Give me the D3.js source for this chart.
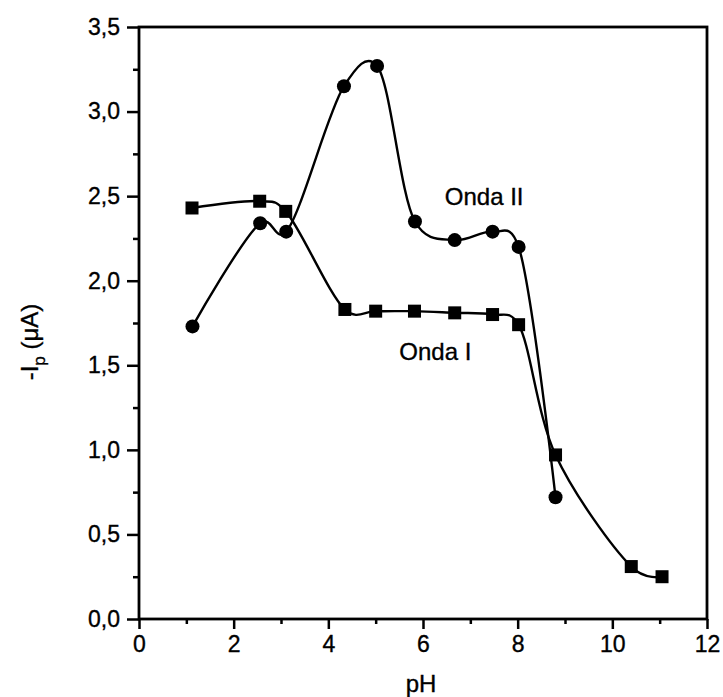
<!DOCTYPE html>
<html>
<head>
<meta charset="utf-8">
<script src="https://cdn.jsdelivr.net/npm/d3@7"></script>
<style>
  body { margin: 0; background: #fff; }
  svg { display: block; }
  text { font-family: "Liberation Sans", Arial, sans-serif; fill: #000; stroke: #000; stroke-width: 0.35px; }
</style>
</head>
<body>
<svg id="chart" width="723" height="697"></svg>
<script>
// Data
const pH_I   = [1.12, 2.55, 3.10, 4.35, 5.00, 5.82, 6.67, 7.47, 8.02, 8.80, 10.40, 11.05];
const ip_I   = [2.43, 2.47, 2.41, 1.83, 1.82, 1.82, 1.81, 1.80, 1.74, 0.97, 0.31, 0.25];
const pH_II  = [1.13, 2.56, 3.11, 4.33, 5.03, 5.83, 6.67, 7.47, 8.02, 8.80];
const ip_II  = [1.73, 2.34, 2.29, 3.15, 3.27, 2.35, 2.24, 2.29, 2.20, 0.72];
const xTicks = [0, 2, 4, 6, 8, 10, 12];
const yTicks = [0.0, 0.5, 1.0, 1.5, 2.0, 2.5, 3.0, 3.5];
const seriesLabels = ["Onda I", "Onda II"];

const svg = d3.select("#chart");
const mLeft = 139, mRight = 707, mTop = 27, mBottom = 619;

const x = d3.scaleLinear().domain([0, 12]).range([mLeft, mRight]);
const y = d3.scaleLinear().domain([0, 3.5]).range([mBottom, mTop]);

const fmt = d => d3.format(".1f")(d).replace(".", ",");

// frame
svg.append("rect")
  .attr("x", mLeft).attr("y", mTop)
  .attr("width", mRight - mLeft).attr("height", mBottom - mTop)
  .attr("fill", "none").attr("stroke", "#000").attr("stroke-width", 2.8);

// x axis
const xAxis = d3.axisBottom(x).tickValues(xTicks).tickSize(10).tickPadding(6).tickFormat(d3.format("d"));
const gx = svg.append("g").attr("transform", `translate(0,${mBottom})`).call(xAxis);
gx.select(".domain").remove();
gx.selectAll(".tick line").attr("stroke-width", 2.5);
gx.selectAll(".tick text").style("font-size", "23px").attr("dy", "0.75em");
const gxm = svg.append("g").attr("transform", `translate(0,${mBottom})`)
  .call(d3.axisBottom(x).tickValues(d3.range(1, 12, 2)).tickSize(5).tickFormat(""));
gxm.select(".domain").remove();
gxm.selectAll(".tick line").attr("stroke-width", 2.5);

// y axis
const yAxis = d3.axisLeft(y).tickValues(yTicks).tickSize(12).tickPadding(7).tickFormat(fmt);
const gy = svg.append("g").attr("transform", `translate(${mLeft},0)`).call(yAxis);
gy.select(".domain").remove();
gy.selectAll(".tick line").attr("stroke-width", 2.5);
gy.selectAll(".tick text").style("font-size", "23px");
const gym = svg.append("g").attr("transform", `translate(${mLeft},0)`)
  .call(d3.axisLeft(y).tickValues(d3.range(0.25, 3.5, 0.5)).tickSize(6).tickFormat(""));
gym.select(".domain").remove();
gym.selectAll(".tick line").attr("stroke-width", 2.5);

// axis titles
svg.append("text").attr("x", (mLeft + mRight) / 2 - 2).attr("y", 692)
  .attr("text-anchor", "middle").style("font-size", "24px").text("pH");

const yt = svg.append("text")
  .attr("transform", `translate(38,342) rotate(-90)`)
  .attr("text-anchor", "middle").style("font-size", "24px");
yt.append("tspan").text("-I");
yt.append("tspan").attr("dy", 7).style("font-size", "17px").text("p");
yt.append("tspan").attr("dy", -7).text(" (\u03BCA)");

// curves
const line = d3.line().curve(d3.curveCatmullRom.alpha(0.2)).x(d => x(d[0])).y(d => y(d[1]));
const dI  = pH_I.map((v, i) => [v, ip_I[i]]);
const dII = pH_II.map((v, i) => [v, ip_II[i]]);

svg.append("path").attr("d", line(dI)).attr("fill", "none").attr("stroke", "#000").attr("stroke-width", 2.4);
svg.append("path").attr("d", line(dII)).attr("fill", "none").attr("stroke", "#000").attr("stroke-width", 2.4);

const sq = 13;
svg.append("g").selectAll("rect").data(dI).join("rect")
  .attr("x", d => x(d[0]) - sq / 2).attr("y", d => y(d[1]) - sq / 2)
  .attr("width", sq).attr("height", sq).attr("fill", "#000");
svg.append("g").selectAll("circle").data(dII).join("circle")
  .attr("cx", d => x(d[0])).attr("cy", d => y(d[1])).attr("r", 7).attr("fill", "#000");

// labels
svg.append("text").attr("x", x(5.5)).attr("y", y(1.53)).style("font-size", "24px").text(seriesLabels[0]);
svg.append("text").attr("x", x(6.46)).attr("y", y(2.45)).style("font-size", "24px").text(seriesLabels[1]);
</script>
</body>
</html>
